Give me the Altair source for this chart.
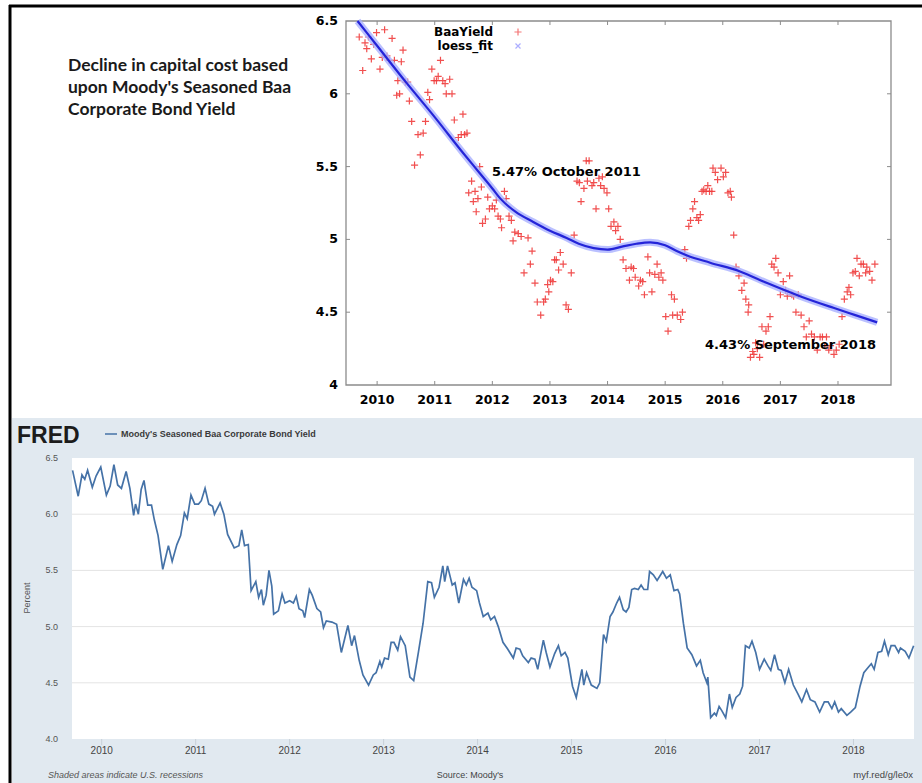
import altair as alt
import pandas as pd

# Moody's Seasoned Baa Corporate Bond Yield, percent (decimal year, value)
dates = [
    2009.69, 2009.75, 2009.79, 2009.82, 2009.85, 2009.90, 2009.94, 2009.99,
    2010.05, 2010.09, 2010.13, 2010.17, 2010.21, 2010.26, 2010.30, 2010.34,
    2010.36, 2010.39, 2010.42, 2010.45, 2010.49, 2010.53, 2010.56, 2010.60,
    2010.65, 2010.71, 2010.75, 2010.80, 2010.84, 2010.88, 2010.91, 2010.95,
    2010.99, 2011.03, 2011.06, 2011.10, 2011.14, 2011.18, 2011.20, 2011.26,
    2011.30, 2011.34, 2011.41, 2011.46, 2011.49, 2011.52, 2011.56, 2011.59,
    2011.64, 2011.67, 2011.70, 2011.72, 2011.75, 2011.78, 2011.81, 2011.83,
    2011.88, 2011.92, 2011.95, 2012.00, 2012.04, 2012.07, 2012.10, 2012.14,
    2012.16, 2012.21, 2012.24, 2012.29, 2012.33, 2012.36, 2012.39, 2012.45,
    2012.50, 2012.55, 2012.62, 2012.66, 2012.69, 2012.74, 2012.78, 2012.84,
    2012.89, 2012.92, 2012.96, 2012.98, 2013.01, 2013.05, 2013.08, 2013.11,
    2013.15, 2013.18, 2013.23, 2013.28, 2013.32, 2013.37, 2013.42, 2013.47,
    2013.51, 2013.54, 2013.59, 2013.63, 2013.65, 2013.68, 2013.73, 2013.76,
    2013.80, 2013.85, 2013.88, 2013.91, 2013.94, 2013.99, 2014.02, 2014.06,
    2014.11, 2014.14, 2014.18, 2014.22, 2014.27, 2014.32, 2014.38, 2014.41,
    2014.45, 2014.48, 2014.54, 2014.57, 2014.61, 2014.64, 2014.70, 2014.73,
    2014.77, 2014.82, 2014.86, 2014.89, 2014.93, 2014.96, 2015.01, 2015.05,
    2015.11, 2015.13, 2015.16, 2015.21, 2015.27, 2015.30, 2015.34, 2015.37,
    2015.41, 2015.44, 2015.48, 2015.51, 2015.55, 2015.58, 2015.61, 2015.64,
    2015.67, 2015.71, 2015.74, 2015.77, 2015.81, 2015.83, 2015.87, 2015.91,
    2015.97, 2016.01, 2016.05, 2016.09, 2016.13, 2016.15, 2016.19, 2016.23,
    2016.28, 2016.33, 2016.37, 2016.40, 2016.44, 2016.45, 2016.48, 2016.52,
    2016.54, 2016.57, 2016.60, 2016.64, 2016.68, 2016.71, 2016.75, 2016.79,
    2016.82, 2016.85, 2016.89, 2016.92, 2016.96, 2017.00, 2017.05, 2017.09,
    2017.12, 2017.16, 2017.20, 2017.23, 2017.27, 2017.31, 2017.36, 2017.41,
    2017.45, 2017.50, 2017.54, 2017.59, 2017.64, 2017.69, 2017.73, 2017.77,
    2017.80, 2017.84, 2017.87, 2017.93, 2017.97, 2018.02, 2018.07, 2018.11,
    2018.16, 2018.19, 2018.22, 2018.26, 2018.30, 2018.33, 2018.37, 2018.40,
    2018.44, 2018.48, 2018.50, 2018.55, 2018.59, 2018.64,
]
yield_pct = [
    6.39, 6.16, 6.35, 6.31, 6.39, 6.24, 6.34, 6.42,
    6.17, 6.25, 6.44, 6.26, 6.23, 6.38, 6.23, 5.99,
    6.09, 6.00, 6.22, 6.30, 6.08, 6.08, 5.95, 5.81,
    5.51, 5.72, 5.58, 5.73, 5.81, 6.01, 5.96, 6.17,
    6.09, 6.09, 6.12, 6.23, 6.09, 6.07, 6.00, 6.10,
    6.00, 5.82, 5.70, 5.72, 5.86, 5.72, 5.73, 5.32,
    5.40, 5.26, 5.33, 5.19, 5.28, 5.50, 5.36, 5.11,
    5.14, 5.29, 5.21, 5.23, 5.21, 5.27, 5.16, 5.14,
    5.08, 5.33, 5.28, 5.16, 5.13, 4.99, 5.05, 5.04,
    5.02, 4.77, 5.01, 4.83, 4.92, 4.70, 4.57, 4.48,
    4.57, 4.59, 4.69, 4.64, 4.72, 4.71, 4.86, 4.86,
    4.79, 4.91, 4.83, 4.55, 4.52, 4.77, 5.03, 5.40,
    5.39, 5.26, 5.35, 5.54, 5.40, 5.54, 5.37, 5.39,
    5.21, 5.42, 5.37, 5.43, 5.35, 5.32, 5.21, 5.09,
    5.12, 5.06, 5.09, 5.00, 4.86, 4.80, 4.72, 4.81,
    4.80, 4.74, 4.68, 4.72, 4.71, 4.62, 4.88, 4.77,
    4.64, 4.76, 4.83, 4.74, 4.77, 4.72, 4.47, 4.37,
    4.62, 4.48, 4.59, 4.48, 4.45, 4.50, 4.93, 4.87,
    5.09, 5.13, 5.21, 5.26, 5.15, 5.13, 5.17, 5.33,
    5.34, 5.33, 5.37, 5.33, 5.33, 5.49, 5.46, 5.41,
    5.49, 5.43, 5.46, 5.32, 5.33, 5.29, 5.03, 4.81,
    4.75, 4.65, 4.70, 4.59, 4.50, 4.55, 4.19, 4.23,
    4.21, 4.29, 4.25, 4.19, 4.40, 4.28, 4.37, 4.40,
    4.47, 4.83, 4.81, 4.87, 4.77, 4.62, 4.71, 4.65,
    4.61, 4.75, 4.62, 4.61, 4.50, 4.62, 4.48, 4.40,
    4.33, 4.44, 4.35, 4.33, 4.24, 4.33, 4.33, 4.27,
    4.33, 4.24, 4.27, 4.21, 4.24, 4.28, 4.47, 4.59,
    4.64, 4.67, 4.62, 4.77, 4.78, 4.87, 4.75, 4.83,
    4.83, 4.77, 4.81, 4.78, 4.72, 4.83,
]

# LOESS fit of the same series
fit_dates = [
    2009.66, 2010.00, 2010.50, 2011.00, 2011.50, 2011.75, 2012.00, 2012.14,
    2012.40, 2012.71, 2013.00, 2013.29, 2013.50, 2013.76, 2014.00, 2014.25,
    2014.50, 2014.74, 2015.00, 2015.20, 2015.38, 2015.78, 2016.30, 2016.77,
    2017.34, 2017.92, 2018.30, 2018.68,
]
fit_values = [
    6.50, 6.33, 6.08, 5.84, 5.59, 5.47, 5.35, 5.28,
    5.19, 5.12, 5.06, 5.01, 4.97, 4.94, 4.93, 4.95,
    4.97, 4.98, 4.96, 4.92, 4.89, 4.84, 4.78, 4.70,
    4.61, 4.53, 4.48, 4.43,
]

years = [2010, 2011, 2012, 2013, 2014, 2015, 2016, 2017, 2018]
top_y_ticks = [4.0, 4.5, 5.0, 5.5, 6.0, 6.5]
top_y_labels = ["4", "4.5", "5", "5.5", "6", "6.5"]
fred_y_ticks = [4.0, 4.5, 5.0, 5.5, 6.0, 6.5]
fred_y_labels = ["4.0", "4.5", "5.0", "5.5", "6.0", "6.5"]
fred_grid = [4.5, 5.0, 5.5, 6.0]

title_lines = [
    "Decline in capital cost based",
    "upon Moody's Seasoned Baa",
    "Corporate Bond Yield",
]
note_oct_2011 = "5.47% October 2011"
note_sep_2018 = "4.43% September 2018"

series = pd.DataFrame({"date": dates, "baa": yield_pct})
fit = pd.DataFrame({"date": fit_dates, "fit": fit_values})
year_df = pd.DataFrame({"year": years, "label": [str(y) for y in years]})
top_ticks = pd.DataFrame({"v": top_y_ticks, "label": top_y_labels})
inner_ticks = pd.DataFrame({"v": top_y_ticks[1:-1]})
fred_ticks = pd.DataFrame({"v": fred_y_ticks, "label": fred_y_labels})
grid_df = pd.DataFrame({"v": fred_grid})
one = pd.DataFrame({"k": [0]})

W, H = 922, 783

# upper panel scales (gnuplot style plot)
TOP_XDOM = [2009.46, 2018.92]
TOP_YDOM = [4.0, 6.5]
TOP_X = alt.Scale(domain=TOP_XDOM, range=[346, 891], nice=False, zero=False)
TOP_Y = alt.Scale(domain=TOP_YDOM, range=[385, 21], nice=False, zero=False)
# lower panel scales (FRED graph)
LOW_XDOM = [2009.684, 2018.644]
LOW_YDOM = [4.0, 6.5]
LOW_X = alt.Scale(domain=LOW_XDOM, range=[72, 914], nice=False, zero=False)
LOW_Y = alt.Scale(domain=LOW_YDOM, range=[739, 458], nice=False, zero=False)

top_box = pd.DataFrame({"x0": [TOP_XDOM[0]], "x1": [TOP_XDOM[1]],
                        "y0": [TOP_YDOM[0]], "y1": [TOP_YDOM[1]]})
low_box = pd.DataFrame({"x0": [LOW_XDOM[0]], "x1": [LOW_XDOM[1]],
                        "y0": [LOW_YDOM[0]], "y1": [LOW_YDOM[1]]})

GP_FONT = "DejaVu Sans"
FRED_FONT = "Liberation Sans"
FRED_BLUE = "#4572a7"
PLUS = "M -1 0 L 1 0 M 0 -1 L 0 1"
CROSS = "M -1 -1 L 1 1 M -1 1 L 1 -1"


def tx(field):
    return alt.X(field, type="quantitative", scale=TOP_X, axis=None)


def ty(field):
    return alt.Y(field, type="quantitative", scale=TOP_Y, axis=None)


def lx(field):
    return alt.X(field, type="quantitative", scale=LOW_X, axis=None)


def ly(field):
    return alt.Y(field, type="quantitative", scale=LOW_Y, axis=None)


layers = []

# ---- frame lines around the figure
layers.append(alt.Chart(one).mark_rule(color="black", strokeWidth=3).encode(
    x=alt.value(9), x2=alt.value(W), y=alt.value(6)))
layers.append(alt.Chart(one).mark_rule(color="black", strokeWidth=3).encode(
    x=alt.value(10), y=alt.value(5), y2=alt.value(H)))

# ---- FRED panel background and plot area
layers.append(alt.Chart(one).mark_rect(color="#e1e9f0").encode(
    x=alt.value(12), x2=alt.value(W), y=alt.value(418), y2=alt.value(H)))
layers.append(alt.Chart(low_box).mark_rect(color="white").encode(
    x=lx("x0"), x2="x1", y=ly("y0"), y2="y1"))
layers.append(alt.Chart(grid_df).mark_rule(color="#e4e4e4", strokeWidth=1).encode(
    y=ly("v"), x=alt.value(72), x2=alt.value(914)))
layers.append(alt.Chart(year_df).mark_rule(color="#c8d0d8", strokeWidth=1).encode(
    x=lx("year"), y=alt.value(739), y2=alt.value(745)))
layers.append(alt.Chart(series).mark_line(color=FRED_BLUE, strokeWidth=1.7).encode(
    x=lx("date"), y=ly("baa")))
layers.append(alt.Chart(fred_ticks).mark_text(
    align="right", baseline="middle", font=FRED_FONT, fontSize=9, color="#555555"
).encode(x=alt.value(58), y=ly("v"), text="label:N"))
layers.append(alt.Chart(year_df).mark_text(
    align="center", baseline="middle", font=FRED_FONT, fontSize=10, color="#444444"
).encode(x=lx("year"), y=alt.value(751), text="label:N"))
layers.append(alt.Chart(one).mark_text(
    text="Percent", angle=270, align="center", baseline="middle",
    font=FRED_FONT, fontSize=9, color="#555555"
).encode(x=alt.value(27), y=alt.value(598)))

# FRED header
layers.append(alt.Chart(one).mark_text(
    text="FRED", align="left", baseline="middle", font=FRED_FONT,
    fontSize=23, fontWeight=900, color="#1c1c1c"
).encode(x=alt.value(17), y=alt.value(436)))
layers.append(alt.Chart(one).mark_rule(color=FRED_BLUE, strokeWidth=1.5).encode(
    x=alt.value(105), x2=alt.value(117), y=alt.value(434)))
layers.append(alt.Chart(one).mark_text(
    text="Moody's Seasoned Baa Corporate Bond Yield", align="left", baseline="middle",
    font=FRED_FONT, fontSize=9, fontWeight="bold", color="#3a3a3a"
).encode(x=alt.value(121), y=alt.value(434)))

# FRED footer
layers.append(alt.Chart(one).mark_text(
    text="Shaded areas indicate U.S. recessions", align="left", baseline="middle",
    font=FRED_FONT, fontSize=9, fontStyle="italic", color="#555555"
).encode(x=alt.value(48), y=alt.value(775)))
layers.append(alt.Chart(one).mark_text(
    text="Source: Moody's", align="center", baseline="middle",
    font=FRED_FONT, fontSize=9, color="#444444"
).encode(x=alt.value(470), y=alt.value(775)))
layers.append(alt.Chart(one).mark_text(
    text="myf.red/g/le0x", align="right", baseline="middle",
    font=FRED_FONT, fontSize=9.5, color="#444444"
).encode(x=alt.value(913), y=alt.value(775)))

# ---- upper panel: title text on the left
layers.append(alt.Chart(one).mark_text(
    text=title_lines, align="left", baseline="top", lineHeight=22,
    font="Lato", fontSize=17.5, fontWeight="bold", color="#1a1a1a"
).encode(x=alt.value(68), y=alt.value(57)))

# gnuplot-style frame and ticks
layers.append(alt.Chart(top_box).mark_rect(
    fillOpacity=0, stroke="#8c8c8c", strokeWidth=1.3
).encode(x=tx("x0"), x2="x1", y=ty("y0"), y2="y1"))
layers.append(alt.Chart(year_df).mark_rule(color="#8c8c8c").encode(
    x=tx("year"), y=alt.value(385), y2=alt.value(381)))
layers.append(alt.Chart(year_df).mark_rule(color="#8c8c8c").encode(
    x=tx("year"), y=alt.value(21), y2=alt.value(25)))
layers.append(alt.Chart(inner_ticks).mark_rule(color="#8c8c8c").encode(
    y=ty("v"), x=alt.value(346), x2=alt.value(350)))
layers.append(alt.Chart(inner_ticks).mark_rule(color="#8c8c8c").encode(
    y=ty("v"), x=alt.value(891), x2=alt.value(887)))
layers.append(alt.Chart(top_ticks).mark_text(
    align="right", baseline="middle", font=GP_FONT, fontSize=12.5,
    fontWeight="bold", color="black"
).encode(x=alt.value(338), y=ty("v"), text="label:N"))
layers.append(alt.Chart(year_df).mark_text(
    align="center", baseline="middle", font=GP_FONT, fontSize=12.5,
    fontWeight="bold", color="black"
).encode(x=tx("year"), y=alt.value(400), text="label:N"))

# data points and the loess curve
layers.append(alt.Chart(series).mark_point(
    shape=PLUS, size=50, filled=False, color="#f03c3c", strokeWidth=1.2, opacity=0.9
).encode(x=tx("date"), y=ty("baa")))
layers.append(alt.Chart(fit).mark_line(
    color="#a9b0ff", strokeWidth=7, opacity=0.8, interpolate="monotone"
).encode(x=tx("date"), y=ty("fit")))
layers.append(alt.Chart(fit).mark_line(
    color="#2424d8", strokeWidth=2.2, interpolate="monotone"
).encode(x=tx("date"), y=ty("fit")))

# key
layers.append(alt.Chart(one).mark_text(
    text="BaaYield", align="right", baseline="middle", font=GP_FONT,
    fontSize=12, fontWeight="bold", color="black"
).encode(x=alt.value(493), y=alt.value(32)))
layers.append(alt.Chart(one).mark_text(
    text="loess_fit", align="right", baseline="middle", font=GP_FONT,
    fontSize=12, fontWeight="bold", color="black"
).encode(x=alt.value(493), y=alt.value(46)))
layers.append(alt.Chart(one).mark_point(
    shape=PLUS, size=50, filled=False, color="#f03c3c", strokeWidth=1.2
).encode(x=alt.value(518), y=alt.value(32)))
layers.append(alt.Chart(one).mark_point(
    shape=CROSS, size=25, filled=False, color="#8a8cff", strokeWidth=1.2
).encode(x=alt.value(518), y=alt.value(46)))

# labels for the fitted values
layers.append(alt.Chart(one).mark_text(
    text=note_oct_2011, align="left", baseline="middle", font=GP_FONT,
    fontSize=13, fontWeight="bold", color="black"
).encode(x=alt.value(492), y=alt.value(172)))
layers.append(alt.Chart(one).mark_text(
    text=note_sep_2018, align="right", baseline="middle", font=GP_FONT,
    fontSize=13, fontWeight="bold", color="black"
).encode(x=alt.value(876), y=alt.value(345)))

chart = alt.layer(*layers).resolve_scale(
    x="independent", y="independent"
).properties(
    width=W, height=H, padding=0,
    autosize=alt.AutoSizeParams(type="none"),
    background="white",
).configure_view(stroke=None)

chart.save("out.html", embed_options={"renderer": "svg", "actions": False})
